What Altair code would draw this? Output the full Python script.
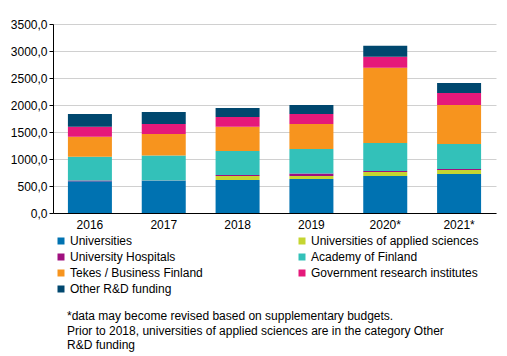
import altair as alt
import pandas as pd

years = ["2016", "2017", "2018", "2019", "2020*", "2021*"]
series = [
    "Universities",
    "Universities of applied sciences",
    "University Hospitals",
    "Academy of Finland",
    "Tekes / Business Finland",
    "Government research institutes",
    "Other R&D funding",
]
colors = ["#0072b1", "#c5d531", "#a0107f", "#33c1b9", "#f7941e", "#e5197a", "#00476e"]
# legend is filled column by column: left column first, then right column
legend_order = [0, 2, 4, 6, 1, 3, 5]

universities = [590, 595, 610, 630, 685, 720]
uas = [0, 0, 75, 55, 75, 75]
hospitals = [10, 5, 20, 45, 20, 20]
academy = [443, 465, 445, 455, 518, 463]
tekes = [370, 400, 445, 465, 1390, 722]
government = [186, 185, 185, 185, 204, 222]
other = [234, 222, 166, 167, 204, 185]

values = [universities, uas, hospitals, academy, tekes, government, other]

footnote = ("*data may become revised based on supplementary budgets.\n"
            "Prior to 2018, universities of applied sciences are in the category Other\n"
            "R&D funding")

rows = []
for si, (name, vals) in enumerate(zip(series, values)):
    for y, v in zip(years, vals):
        rows.append({"year": y, "series": name, "value": v, "idx": si})
df = pd.DataFrame(rows)

FONT = "Liberation Sans"

bars = alt.Chart(df).mark_bar(size=44).encode(
    x=alt.X("year:N", sort=years, title=None,
            scale=alt.Scale(paddingInner=0.4, paddingOuter=0.2),
            axis=alt.Axis(labelAngle=0, ticks=False, domainColor="#000000",
                          labelPadding=6, labelFontSize=12, labelFont=FONT,
                          labelColor="#000000", grid=False)),
    y=alt.Y("value:Q", stack="zero", title=None,
            scale=alt.Scale(domain=[0, 3500], nice=False),
            axis=alt.Axis(values=[0, 500, 1000, 1500, 2000, 2500, 3000, 3500],
                          labelExpr="replace(format(datum.value, '.1f'), '.', ',')",
                          tickSize=4, tickColor="#000000", domainColor="#000000",
                          labelPadding=2, labelFontSize=12, labelFont=FONT,
                          labelColor="#000000", gridColor="#d0d0d0")),
    color=alt.Color("series:N",
                    scale=alt.Scale(domain=[series[i] for i in legend_order],
                                    range=[colors[i] for i in legend_order]),
                    legend=alt.Legend(title=None, orient="none", legendX=2, legendY=211,
                                      columns=2, columnPadding=93, rowPadding=4,
                                      symbolType="square", symbolSize=49,
                                      symbolStrokeWidth=0, symbolOffset=0,
                                      labelOffset=3,
                                      labelFontSize=12, labelFont=FONT,
                                      labelColor="#000000", labelLimit=300)),
    order=alt.Order("idx:Q", sort="ascending"),
)

note = alt.Chart(pd.DataFrame({"t": [footnote]})).mark_text(
    align="left", baseline="top", lineBreak="\n", fontSize=12, font=FONT,
    color="#000000", lineHeight=14.5
).encode(x=alt.value(14), y=alt.value(287), text="t:N")

chart = alt.layer(bars, note).properties(
    width=443, height=189,
    autosize=alt.AutoSizeParams(type="none"),
    padding={"left": 45, "top": 16, "right": 3, "bottom": 140},
).configure_view(stroke=None).configure_axis(domainWidth=1)

chart.save("out.html", embed_options={"renderer": "svg", "actions": False})
